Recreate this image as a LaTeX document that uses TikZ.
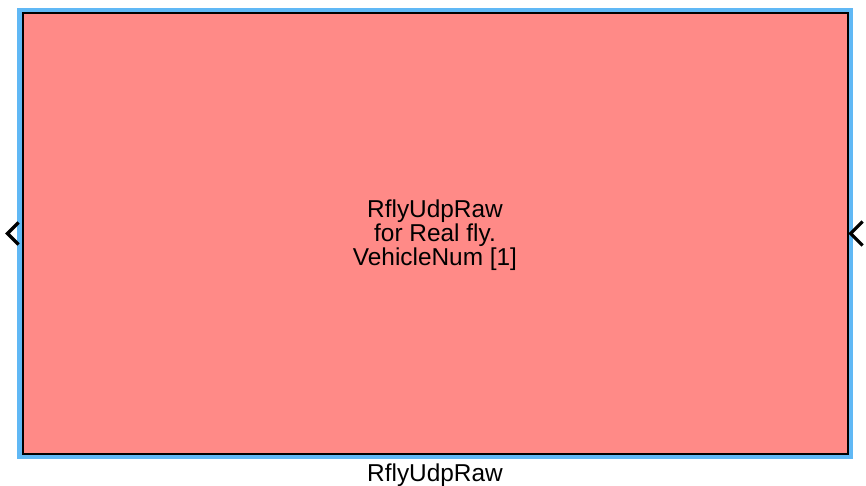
\documentclass[tikz,border=0pt]{standalone}
\usepackage{fontspec}
\setmainfont{Liberation Sans}
\usepackage{xcolor}
\usetikzlibrary{positioning,calc}

\definecolor{blockfill}{RGB}{255,138,135}
\definecolor{selblue}{RGB}{96,184,245}

\begin{document}
\begin{tikzpicture}[x=1pt, y=-1pt,
    every node/.style={font=\fontsize{24.4}{22.7}\selectfont, align=center},
    frame/.style={draw=selblue, line width=4.5pt, minimum width=831pt, minimum height=446pt, inner sep=0pt},
    blockbox/.style={draw=black, fill=blockfill, line width=2pt, minimum width=825pt, minimum height=440pt, inner sep=0pt},
    portmark/.style={draw=black, line width=3.2pt, line cap=butt, line join=miter}]
  \useasboundingbox (0,0) rectangle (866,486);

  \node[frame] (sel) at (435,233.5) {};
  \node[blockbox] (udp) at (435,233.5) {};
  \node (title) at ($(udp.center)+(0,1.5)$) {RflyUdpRaw\\for Real fly.\\VehicleNum [1]};
  \node (name) [below=2pt of sel] {RflyUdpRaw};

  % in/out ports
  \coordinate (inport) at ($(udp.west)+(-14pt,0)$);
  \coordinate (outport) at ($(udp.east)+(2pt,0)$);
  \draw[portmark] ($(inport)+(11,-11)$) -- (inport) -- ($(inport)+(11,11)$);
  \draw[portmark] ($(outport)+(12,-12)$) -- (outport) -- ($(outport)+(12,12)$);
\end{tikzpicture}
\end{document}
